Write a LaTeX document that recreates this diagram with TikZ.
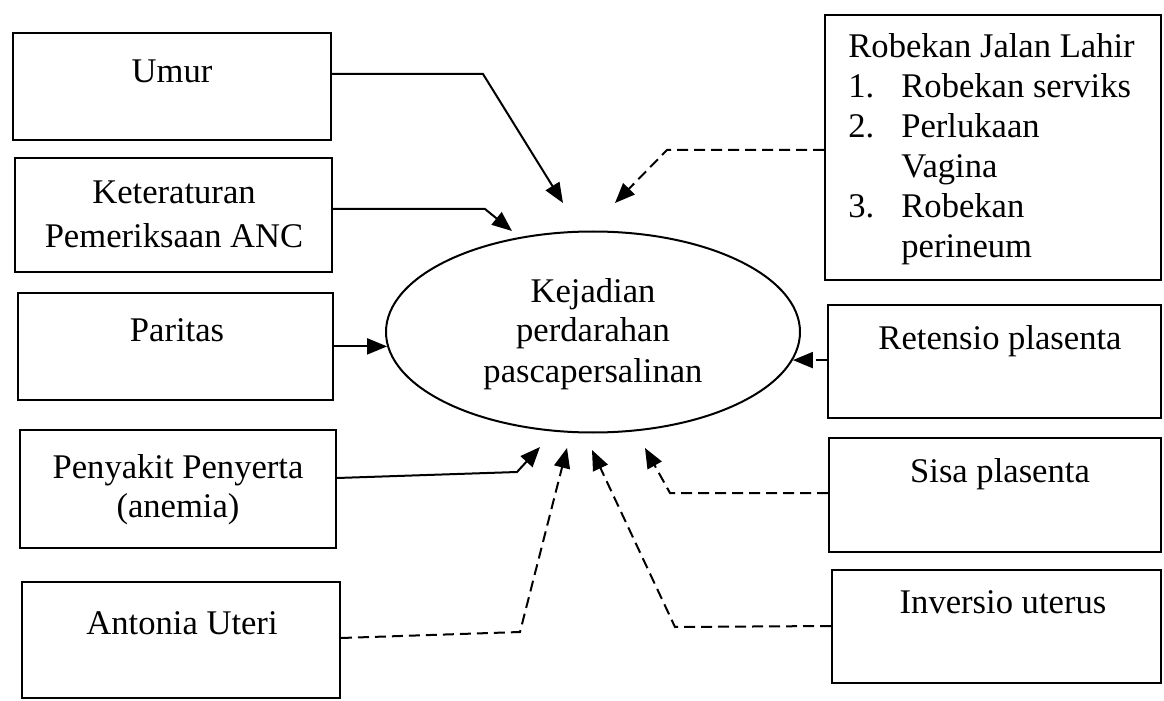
\documentclass[tikz,border=0pt]{standalone}
\usepackage{fontspec}
\setmainfont{Liberation Serif}
\usetikzlibrary{arrows.meta,shapes.geometric}
\begin{document}
\begin{tikzpicture}[x=0.5pt,y=-0.5pt,
  box/.style={draw,line width=1pt,rectangle,inner sep=0pt},
  lbl/.style={inner sep=0pt,font=\fontsize{17.3}{20}\selectfont},
  lblwide/.style={inner sep=0pt,font=\fontsize{17.3}{22}\selectfont},
  arr/.style={line width=1pt,-{Triangle[length=10pt,width=8pt]}},
  darr/.style={arr,dash pattern=on 5.5pt off 3pt},
]
\fill[white] (0,0) rectangle (1164,701);
\useasboundingbox (0,0) rectangle (1164,701);

% left boxes
\node[box,minimum width=159pt,minimum height=53.5pt] (umur) at (172,86.5) {};
\node[box,minimum width=158.5pt,minimum height=57pt] (ket) at (173.5,215) {};
\node[box,minimum width=157.5pt,minimum height=53.5pt] (par) at (175.5,346.5) {};
\node[box,minimum width=158pt,minimum height=59pt] (pen) at (178,489) {};
\node[box,minimum width=159pt,minimum height=58pt] (ant) at (181,640) {};
% right boxes
\node[box,minimum width=168pt,minimum height=132.5pt] (rob) at (993,147.5) {};
\node[box,minimum width=166.5pt,minimum height=56.5pt] (ret) at (994.5,361.5) {};
\node[box,minimum width=166pt,minimum height=57pt] (sisa) at (995,495) {};
\node[box,minimum width=164.5pt,minimum height=56.5pt] (inv) at (996.5,626.5) {};
% central ellipse
\node[draw,ellipse,line width=1pt,inner sep=0pt,minimum width=207pt,minimum height=100.5pt] (ell) at (593,332) {};

% labels
\node[lbl,anchor=base] (umurt) at (172,83) {Umur};
\node[lblwide,anchor=base] (kett) at (174,204) {\begin{tabular}[t]{@{}c@{}}Keteraturan\\Pemeriksaan ANC\end{tabular}};
\node[lbl,anchor=base] (part) at (177,342) {Paritas};
\node[lbl,anchor=base] (pent) at (178,478) {\begin{tabular}[t]{@{}c@{}}Penyakit Penyerta\\(anemia)\end{tabular}};
\node[lbl,anchor=base] (antt) at (182,634) {Antonia Uteri};
\node[lbl,anchor=base] (ellt) at (593,302) {\begin{tabular}[t]{@{}c@{}}Kejadian\\perdarahan\\pascapersalinan\end{tabular}};
\node[lbl,anchor=base west] (robt) at (848,58) {\begin{tabular}[t]{@{}p{26.5pt}@{}l@{}}\multicolumn{2}{@{}l@{}}{Robekan Jalan Lahir}\\1. & Robekan serviks\\2. & Perlukaan\\ & Vagina\\3. & Robekan\\ & perineum\end{tabular}};
\node[lbl,anchor=base] (rett) at (1000,350) {Retensio plasenta};
\node[lbl,anchor=base] (sisat) at (1000,482) {Sisa plasenta};
\node[lbl,anchor=base] (invt) at (1003,613) {Inversio uterus};

% bend points and free tips
\coordinate (b1) at (483,74);  \coordinate (t1) at (563,203);
\coordinate (b2) at (485,209); \coordinate (t2) at (512,231);
\coordinate (b3) at (667,150); \coordinate (t3) at (615,203);
\coordinate (b5) at (517,472); \coordinate (t5) at (540,447);
\coordinate (b6) at (520,632); \coordinate (t6) at (567,448);
\coordinate (b7) at (675,627); \coordinate (t7) at (592,450);
\coordinate (b8) at (670,493); \coordinate (t8) at (645,448);

% connectors
\draw[arr] (umur.east |- 0,74) -- (b1) -- (t1);
\draw[arr] (ket.east |- 0,209) -- (b2) -- (t2);
\draw[darr] (rob.west |- 0,150) -- (b3) -- (t3);
\draw[arr] (par.east |- ell.184) -- (ell.184);
\draw[arr] (pen.east |- 0,478) -- (b5) -- (t5);
\draw[darr] (ant.east |- 0,638) -- (b6) -- (t6);
\draw[darr] (inv.west |- 0,626) -- (b7) -- (t7);
\draw[darr] (sisa.west |- 0,493) -- (b8) -- (t8);
\draw[darr] (ret.west |- ell.-8) -- (ell.-8);
\end{tikzpicture}
\end{document}
